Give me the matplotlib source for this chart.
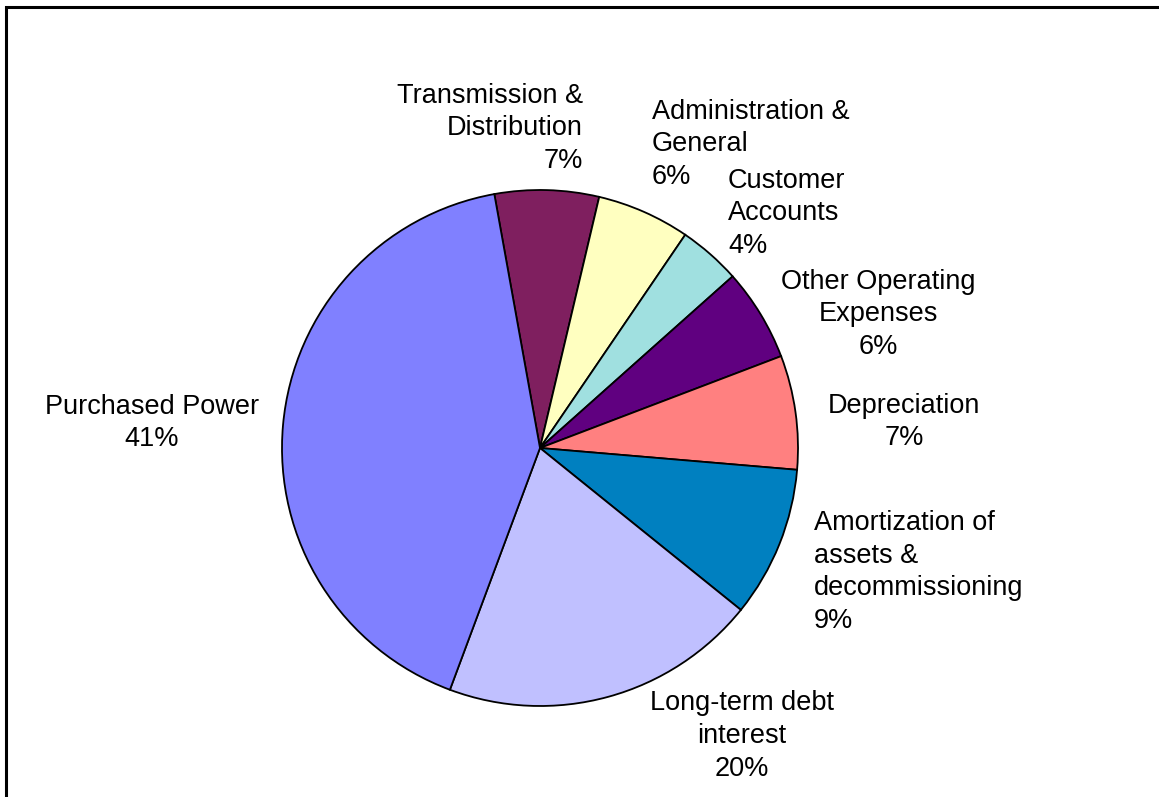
import matplotlib.pyplot as plt
from matplotlib.patches import Rectangle

# operating cost breakdown, clockwise from the top
categories = ["Transmission &\nDistribution", "Administration &\nGeneral",
              "Customer\nAccounts", "Other Operating\nExpenses", "Depreciation",
              "Amortization of\nassets &\ndecommissioning", "Long-term debt\ninterest",
              "Purchased Power"]
shares = [6.52, 5.83, 3.90, 5.79, 7.14, 9.45, 19.88, 41.49]
colors = ["#7F1F5F", "#FFFFC0", "#A0E0E0", "#600080", "#FF8080",
          "#0080C0", "#C0C0FF", "#8080FF"]

# label anchor (pixels from top-left) and alignment for each slice
label_pos = [(583, 128, "right"), (652, 144, "left"), (728, 213, "left"),
             (878, 314, "center"), (904, 422, "center"), (814, 572, "left"),
             (742, 736, "center"), (152, 423, "center")]
line_step = 32.5

W, H = 1159, 797
plt.rcParams['font.family'] = ['Liberation Sans', 'DejaVu Sans']

fig = plt.figure(figsize=(W / 100, H / 100), dpi=100)
ax = fig.add_axes([0, 0, 1, 1])

ax.pie(shares, colors=colors, startangle=100.2, counterclock=False,
       center=(540, H - 448), radius=258,
       wedgeprops=dict(edgecolor='black', linewidth=1.3))

# pie() resets the limits, so fix them in pixel units afterwards
ax.set_xlim(0, W)
ax.set_ylim(0, H)
ax.set_aspect('equal')
ax.axis('off')

# labels are laid out one line at a time so neighbouring blocks don't collide
total = sum(shares)
for name, val, (x, y, ha) in zip(categories, shares, label_pos):
    pct = int(100 * val / total + 0.5)
    lines = name.split("\n") + [f"{pct}%"]
    n = len(lines)
    for i, line in enumerate(lines):
        ly = y + (i - (n - 1) / 2) * line_step
        ax.text(x, H - ly, line, ha=ha, va='center', fontsize=19.5)

# chart frame
ax.add_patch(Rectangle((6, -20), W + 20, H - 7 + 20, fill=False,
                       edgecolor='black', linewidth=2.2, clip_on=False))

fig.savefig("out.png", dpi=100)
